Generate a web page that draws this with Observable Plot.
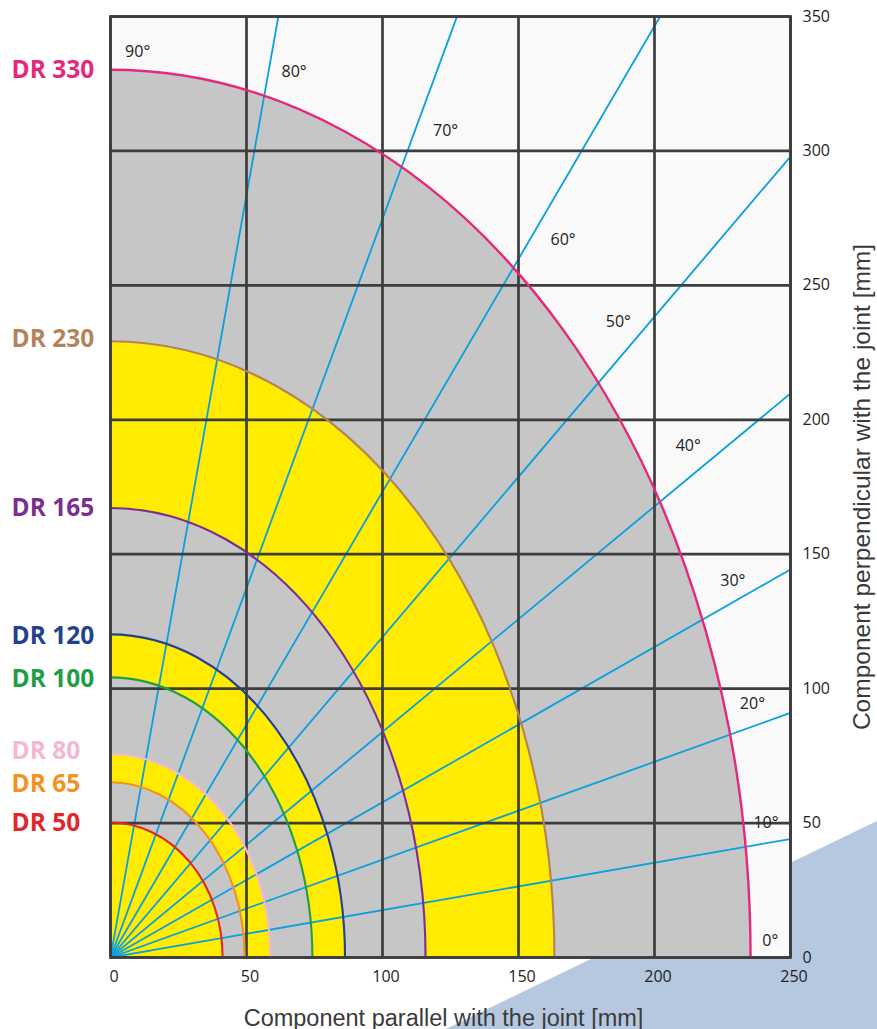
<!DOCTYPE html>
<html>
<head>
<meta charset="utf-8">
<script src="https://cdn.jsdelivr.net/npm/d3@7"></script>
<script src="https://cdn.jsdelivr.net/npm/@observablehq/plot@0.6"></script>
<style>
  html, body { margin: 0; padding: 0; background: #ffffff; overflow: hidden; }
  #wrap { position: relative; width: 877px; height: 1029px; }
  #deco { position: absolute; left: 0; top: 0; width: 877px; height: 1029px; background: #b6c8e0;
          clip-path: polygon(877px 821px, 877px 1029px, 446px 1029px); }
  #chart { position: absolute; left: 0; top: 0; }
</style>
</head>
<body>
<div id="wrap"><div id="deco"></div><div id="chart"></div></div>
<script>
// ---- data ----
const drNames = ["DR 330", "DR 230", "DR 165", "DR 120", "DR 100", "DR 80", "DR 65", "DR 50"];
// reach along the joint (x) and perpendicular to the joint (y), mm
const reachParallel = [235.5, 163.4, 116, 86.4, 74.4, 59, 49.5, 41.4];
const reachPerpendicular = [330, 229, 167, 120, 104, 75.5, 65, 50];
// height (mm) at which each DR name is written on the left
const drLabelAt = [330, 230, 167, 119.5, 103.5, 76.8, 64.3, 49.8];
// ray angles (degrees)
const rayAngles = [10, 20, 30, 40, 50, 60, 70, 80];
// angle annotations and where they sit (mm)
const angleLabels = ["90°", "80°", "70°", "60°", "50°", "40°", "30°", "20°", "10°", "0°"];
const angleLabelX = [10.0, 67.5, 123.2, 166.4, 186.7, 212.4, 228.8, 236.0, 241.0, 242.6];
const angleLabelY = [336.7, 329.4, 307.5, 267.1, 236.5, 190.4, 140.2, 94.2, 50.0, 6.3];
// axis ticks
const xTicks = [0, 50, 100, 150, 200, 250];
const yTicks = [0, 50, 100, 150, 200, 250, 300, 350];
const xTitle = "Component parallel with the joint [mm]";
const yTitle = "Component perpendicular with the joint [mm]";

// ---- styles ----
const drColors = ["#e6287a", "#b5835a", "#7a2e8e", "#24408e", "#1f9e45", "#f4b8d4", "#f39223", "#e3262a"];
const bandColors = ["#c6c6c6", "#ffec00", "#c6c6c6", "#ffec00", "#c6c6c6", "#ffec00", "#c6c6c6", "#ffec00"];
const gridColor = "#3d3d3d";
const rayColor = "#0a9fdf";

const zones = drNames.map((name, i) => ({
  name, a: reachParallel[i], b: reachPerpendicular[i], labelAt: drLabelAt[i],
  color: drColors[i], band: bandColors[i]
}));

// quarter-ellipse mark drawn through the plot's own x / y scales
function quarterEllipses(data, {filled}) {
  return (index, scales) => {
    const {x, y} = scales;
    const g = d3.create("svg:g");
    for (const d of data) {
      const x0 = x(0), y0 = y(0), xa = x(d.a), yb = y(d.b);
      const rx = xa - x0, ry = y0 - yb;
      if (filled) {
        g.append("path")
          .attr("d", `M${x0},${y0}L${x0},${yb}A${rx},${ry} 0 0 1 ${xa},${y0}Z`)
          .attr("fill", d.band);
      } else {
        g.append("path")
          .attr("d", `M${x0},${yb}A${rx},${ry} 0 0 1 ${xa},${y0}`)
          .attr("fill", "none")
          .attr("stroke", d.color)
          .attr("stroke-width", d.name === "DR 330" ? 2.4 : 2.1);
      }
    }
    return g.node();
  };
}

const rays = rayAngles.map(a => ({angle: a}));
const L = 600;

const chart = Plot.plot({
  width: 877,
  height: 1029,
  marginLeft: 110,
  marginRight: 87,
  marginTop: 16,
  marginBottom: 72,
  x: {domain: [0, 250], axis: null},
  y: {domain: [0, 350], axis: null},
  style: {background: "transparent", fontFamily: "'Open Sans', sans-serif", overflow: "visible"},
  marks: [
    Plot.frame({fill: "#f9f9f9", stroke: null}),
    quarterEllipses(zones, {filled: true}),
    Plot.link(rays, {
      x1: () => 0, y1: () => 0,
      x2: d => L * Math.cos(d.angle * Math.PI / 180),
      y2: d => L * Math.sin(d.angle * Math.PI / 180),
      stroke: rayColor, strokeWidth: 1.8, clip: true
    }),
    Plot.ruleX(xTicks, {x: d => d, stroke: gridColor, strokeWidth: 2.7}),
    Plot.ruleY(yTicks, {y: d => d, stroke: gridColor, strokeWidth: 2.7}),
    quarterEllipses(zones, {filled: false}),
    Plot.frame({stroke: gridColor, strokeWidth: 2.7}),
    // tick labels
    Plot.text(xTicks, {x: d => d, text: d => String(d), frameAnchor: "bottom", dy: 19, dx: 3.5,
      fontSize: 16, fill: "#1e1e1e", textAnchor: "middle", lineAnchor: "middle"}),
    Plot.text(yTicks, {y: d => d, text: d => String(d), frameAnchor: "right", dx: 12,
      fontSize: 16, fill: "#1e1e1e", textAnchor: "start", lineAnchor: "middle"}),
    // angle annotations
    Plot.text(angleLabels, {x: (d, i) => angleLabelX[i], y: (d, i) => angleLabelY[i], text: d => d,
      fontSize: 16, fill: "#222222", textAnchor: "middle", lineAnchor: "middle"}),
    // DR labels
    Plot.text(zones, {x: () => 0, y: d => d.labelAt, text: d => d.name, fill: d => d.color,
      fontSize: 24.5, fontWeight: "bold", textAnchor: "start", lineAnchor: "middle", dx: -99}),
    // axis titles
    Plot.text([xTitle], {frameAnchor: "bottom", text: d => d, dy: 61, dx: -7,
      fontSize: 23.5, fontFamily: "'Liberation Sans', Arial, sans-serif", fill: "#3a3a3a",
      textAnchor: "middle", lineAnchor: "middle"}),
    Plot.text([yTitle], {frameAnchor: "right", text: d => d, dx: 72, rotate: -90,
      fontSize: 24.5, fontFamily: "'Liberation Sans', Arial, sans-serif", fill: "#3a3a3a",
      textAnchor: "middle", lineAnchor: "middle"})
  ]
});

document.getElementById("chart").appendChild(chart);
</script>
</body>
</html>
